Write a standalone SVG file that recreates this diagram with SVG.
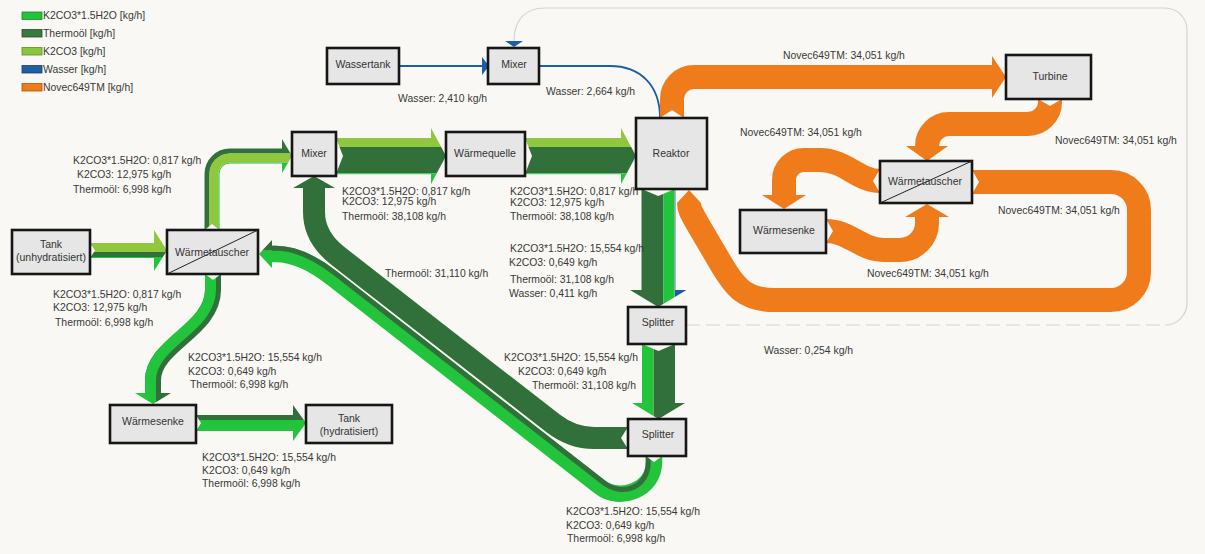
<svg xmlns="http://www.w3.org/2000/svg" width="1205" height="554" viewBox="0 0 1205 554">
<style>
.bg{fill:#f9f8f4}
.box{fill:#e6e6e6;stroke:#161616;stroke-width:2.6}
.diag{stroke:#222;stroke-width:1}
.t{font-family:"Liberation Sans",Arial,sans-serif;font-size:10.4px;fill:#383838}
.nt{font-family:"Liberation Sans",Arial,sans-serif;font-size:10.5px;fill:#333;text-anchor:middle;dominant-baseline:central}
.fBR{fill:#22c43c}.fDK{fill:#31703a}.fYG{fill:#8fc73e}.fBL{fill:#1b5ea6}.fOR{fill:#ef7b1a}
.sBR{fill:none;stroke:#22c43c}.sDK{fill:none;stroke:#31703a}.sYG{fill:none;stroke:#8fc73e}
.sOR{fill:none;stroke:#ef7b1a;stroke-width:24}
.wl{fill:none;stroke:#1b5ea6;stroke-width:1.8}
.notch{fill:#f9f8f4}
</style>
<defs>
<clipPath id="hdA"><polygon points="154,230 167,250.5 154,271"/></clipPath>
<clipPath id="hdB"><polygon points="282,139 292,156 282,173"/></clipPath>
<clipPath id="hdC"><polygon points="431,128 446,156 431,184"/></clipPath>
<clipPath id="hdD"><polygon points="621,128 636,156 621,184"/></clipPath>
<clipPath id="hdE"><polygon points="630,290 658.25,307 686.5,290"/></clipPath>
<clipPath id="hdF"><polygon points="632,403 658.5,419 685,403"/></clipPath>
<clipPath id="hdH"><polygon points="272,240 259,254 272,268"/></clipPath>
<clipPath id="hdI"><polygon points="135,393 153,404 171,393"/></clipPath>
<clipPath id="hdJ"><polygon points="293,405 306,423 293,441"/></clipPath>
</defs>
<rect class="bg" x="0" y="0" width="1205" height="554"/>

<g id="legend">
<rect x="22" y="12" width="20" height="7.5" fill="#22c43c" stroke="#178a2a" stroke-width="0.8"/>
<text class="t" x="43" y="19.4">K2CO3*1.5H2O [kg/h]</text>
<rect x="22" y="29.5" width="20" height="7.5" fill="#3a7a3f" stroke="#24502a" stroke-width="0.8"/>
<text class="t" x="43" y="37">Thermoöl [kg/h]</text>
<rect x="22" y="47.5" width="20" height="7.5" fill="#8cc63e" stroke="#5f8a28" stroke-width="0.8"/>
<text class="t" x="43" y="55">K2CO3 [kg/h]</text>
<rect x="22" y="65.5" width="20" height="7.5" fill="#1f5fa5" stroke="#143f70" stroke-width="0.8"/>
<text class="t" x="43" y="73">Wasser [kg/h]</text>
<rect x="22" y="83.5" width="20" height="7.5" fill="#ef7b1a" stroke="#a85510" stroke-width="0.8"/>
<text class="t" x="43" y="91">Novec649TM [kg/h]</text>
</g>

<g id="connectors">
<!-- water recycle from splitter back to the top mixer -->
<path d="M686,325 H1165" fill="none" stroke="#cdd5d5" stroke-width="1.2" stroke-dasharray="14 6"/>
<path d="M1165,325 A22,22 0 0 0 1187,303 V30 A22,22 0 0 0 1165,8 H545 C525,8 514,20 514,41" fill="none" stroke="#cdd5d5" stroke-width="1.2"/>
<polygon class="fBL" points="505,41 523,41 514,47"/>

<!-- water supply -->
<path class="wl" d="M399,66 H482"/>
<polygon class="fBL" points="482,57 489,66 482,75"/>
<path class="wl" d="M539,66 H610 C640,66 660,85 660,118"/>

<!-- Novec649TM cycle -->
<path class="sOR" d="M672,118 V99 A22,22 0 0 1 694,77 H992"/>
<polygon class="fOR" points="992,56 1006,77 992,98"/>
<path class="sOR" d="M1050,99 V102 A22,22 0 0 1 1028,124 H949 A22,22 0 0 0 927,146"/>
<polygon class="fOR" points="906,146 927,161 948,146"/>
<path class="sOR" d="M880,181 C858,181 845,160 820,160 H804 A20,20 0 0 0 784,180 V195"/>
<polygon class="fOR" points="762,195 784,209 806,195"/>
<path class="sOR" d="M826,231 C850,231 860,250 885,250 H900 A27,27 0 0 0 927,223 V217"/>
<polygon class="fOR" points="905,217 927,204 949,217"/>
<path class="sOR" d="M972,182 H1111 A28,28 0 0 1 1139,210 V272 A28,28 0 0 1 1111,300 H775 C745,300 735,288 720,262 L700,228 C692,214 689,210 689,203"/>
<polygon class="fOR" points="677,203 689,190 701,203"/>
<polygon class="notch" points="660,118 672,110 684,118"/>
<polygon class="notch" points="1038,99 1050,106 1062,99"/>
<polygon class="notch" points="880,169 873,181 880,193"/>
<polygon class="notch" points="826,219 833,231 826,243"/>
<polygon class="notch" points="972,170 979,182 972,194"/>

<!-- Tank (unhydratisiert) to heat exchanger -->
<rect class="fYG" x="90" y="243" width="64" height="9"/>
<rect class="fDK" x="90" y="252" width="64" height="5"/>
<rect class="fBR" x="90" y="257" width="64" height="1"/>
<g clip-path="url(#hdA)">
<rect class="fYG" x="150" y="225" width="20" height="27"/>
<rect class="fDK" x="150" y="252" width="20" height="5"/>
<rect class="fBR" x="150" y="257" width="20" height="20"/>
</g>
<polygon class="notch" points="90,243 95,250.5 90,258"/>

<!-- heat exchanger to mixer -->
<path class="sDK" stroke-width="5" d="M207,230 V174 A23,23 0 0 1 230,151 H282"/>
<path class="sYG" stroke-width="9" d="M214,230 V174 A16,16 0 0 1 230,158 H282"/>
<path class="sBR" stroke-width="1" d="M219,230 V174 A11,11 0 0 1 230,163 H282"/>
<g clip-path="url(#hdB)">
<rect class="fDK" x="278" y="135" width="20" height="18.5"/>
<rect class="fYG" x="278" y="153.5" width="20" height="9"/>
<rect class="fBR" x="278" y="162.5" width="20" height="15"/>
</g>
<polygon class="notch" points="204.5,230 212,224 219.5,230"/>

<!-- mixer to heat source -->
<rect class="fYG" x="336" y="138" width="95" height="9"/>
<rect class="fDK" x="336" y="147" width="95" height="26.4"/>
<rect class="fBR" x="336" y="173.4" width="95" height="0.8"/>
<g clip-path="url(#hdC)">
<rect class="fYG" x="428" y="124" width="20" height="23"/>
<rect class="fDK" x="428" y="147" width="20" height="26.4"/>
<rect class="fBR" x="428" y="173.4" width="20" height="14"/>
</g>
<polygon class="notch" points="336,138 343,156 336,174"/>

<!-- heat source to reactor -->
<rect class="fYG" x="525" y="138" width="96" height="9"/>
<rect class="fDK" x="525" y="147" width="96" height="26.4"/>
<rect class="fBR" x="525" y="173.4" width="96" height="0.8"/>
<g clip-path="url(#hdD)">
<rect class="fYG" x="618" y="124" width="20" height="23"/>
<rect class="fDK" x="618" y="147" width="20" height="26.4"/>
<rect class="fBR" x="618" y="173.4" width="20" height="14"/>
</g>
<polygon class="notch" points="525,138 532,156 525,174"/>

<!-- reactor to first splitter -->
<rect class="fDK" x="641.5" y="189" width="21.8" height="101"/>
<rect class="fBR" x="663.3" y="189" width="10.9" height="101"/>
<rect class="fYG" x="674.2" y="189" width="0.5" height="101"/>
<rect class="fBL" x="674.7" y="189" width="0.7" height="101"/>
<g clip-path="url(#hdE)">
<rect class="fDK" x="626" y="286" width="37.3" height="24"/>
<rect class="fBR" x="663.3" y="286" width="10.9" height="24"/>
<rect class="fYG" x="674.2" y="286" width="0.5" height="24"/>
<rect class="fBL" x="674.7" y="286" width="15" height="24"/>
</g>
<polygon class="notch" points="641.5,189 658.25,196 675,189"/>

<!-- first splitter to second splitter -->
<rect class="fBR" x="642" y="344" width="11" height="59"/>
<rect class="fYG" x="653" y="344" width="0.5" height="59"/>
<rect class="fDK" x="653.5" y="344" width="21.5" height="59"/>
<g clip-path="url(#hdF)">
<rect class="fBR" x="628" y="400" width="25" height="22"/>
<rect class="fYG" x="653" y="400" width="0.5" height="22"/>
<rect class="fDK" x="653.5" y="400" width="35" height="22"/>
</g>
<polygon class="notch" points="642,344 658.5,351 675,344"/>

<!-- thermal oil return to mixer -->
<path class="sDK" stroke-width="22" d="M628,438 H594 Q571.9,438 553,423.3 L338,256 Q314,237.4 314,212 V188"/>
<polygon class="fDK" points="293,188 314,176 335,188"/>
<polygon class="notch" points="628,427 621,438 628,449"/>

<!-- second splitter back to heat exchanger -->
<path class="sBR" stroke-width="16.5" d="M654,456 V462 C654,490 619.7,502.4 600,487 L332,278 Q301.2,254 276,254 H272"/>
<path class="sDK" stroke-width="5" d="M648.25,456 V462 C648.25,487 623.2,497.9 603.5,482.5 L335.5,273.5 Q303.1,248.25 276,248.25 H272"/>
<g clip-path="url(#hdH)">
<rect class="fDK" x="256" y="236" width="20" height="14.75"/>
<rect class="fBR" x="256" y="250.75" width="20" height="22"/>
</g>
<polygon class="notch" points="645.75,456 654,462 662.25,456"/>

<!-- heat exchanger to heat sink -->
<path class="sDK" stroke-width="16" d="M213,274 V290 C213,330 153,345 153,380 V393"/>
<path class="sBR" stroke-width="11" d="M210.5,274 V290 C210.5,328 150.5,343 150.5,380 V393"/>
<g clip-path="url(#hdI)">
<rect class="fBR" x="130" y="390" width="26" height="18"/>
<rect class="fDK" x="156" y="390" width="20" height="18"/>
</g>
<polygon class="notch" points="205,274 213,280 221,274"/>

<!-- heat sink to Tank (hydratisiert) -->
<rect class="fDK" x="196" y="415" width="97" height="5"/>
<rect class="fBR" x="196" y="420" width="97" height="11"/>
<g clip-path="url(#hdJ)">
<rect class="fDK" x="290" y="400" width="20" height="20"/>
<rect class="fBR" x="290" y="420" width="20" height="25"/>
</g>
<polygon class="notch" points="196,415 201,423 196,431"/>
</g>

<g id="flow-labels">
<text class="t" x="398" y="101.7">Wasser: 2,410 kg/h</text>
<text class="t" x="546" y="94.7">Wasser: 2,664 kg/h</text>
<text class="t" x="783" y="58.7">Novec649TM: 34,051 kg/h</text>
<text class="t" x="740" y="135.7">Novec649TM: 34,051 kg/h</text>
<text class="t" x="1055" y="143.7">Novec649TM: 34,051 kg/h</text>
<text class="t" x="998" y="213.7">Novec649TM: 34,051 kg/h</text>
<text class="t" x="867" y="276.7">Novec649TM: 34,051 kg/h</text>
<text class="t" x="73" y="163.7">K2CO3*1.5H2O: 0,817 kg/h</text>
<text class="t" x="77" y="177.7">K2CO3: 12,975 kg/h</text>
<text class="t" x="73" y="192.7">Thermoöl: 6,998 kg/h</text>
<text class="t" x="53" y="297.7">K2CO3*1.5H2O: 0,817 kg/h</text>
<text class="t" x="53" y="310.7">K2CO3: 12,975 kg/h</text>
<text class="t" x="55" y="325.7">Thermoöl: 6,998 kg/h</text>
<text class="t" x="342" y="194.7">K2CO3*1.5H2O: 0,817 kg/h</text>
<text class="t" x="342" y="204.7">K2CO3: 12,975 kg/h</text>
<text class="t" x="342" y="219.7">Thermoöl: 38,108 kg/h</text>
<text class="t" x="510" y="194.7">K2CO3*1.5H2O: 0,817 kg/h</text>
<text class="t" x="510" y="205.7">K2CO3: 12,975 kg/h</text>
<text class="t" x="510" y="219.7">Thermoöl: 38,108 kg/h</text>
<text class="t" x="510" y="251.7">K2CO3*1.5H2O: 15,554 kg/h</text>
<text class="t" x="509" y="265.7">K2CO3: 0,649 kg/h</text>
<text class="t" x="510" y="282.7">Thermoöl: 31,108 kg/h</text>
<text class="t" x="509" y="296.7">Wasser: 0,411 kg/h</text>
<text class="t" x="385" y="276.7">Thermoöl: 31,110 kg/h</text>
<text class="t" x="504" y="360.7">K2CO3*1.5H2O: 15,554 kg/h</text>
<text class="t" x="518" y="374.7">K2CO3: 0,649 kg/h</text>
<text class="t" x="532" y="388.7">Thermoöl: 31,108 kg/h</text>
<text class="t" x="764" y="353.7">Wasser: 0,254 kg/h</text>
<text class="t" x="188" y="360.7">K2CO3*1.5H2O: 15,554 kg/h</text>
<text class="t" x="188" y="374.7">K2CO3: 0,649 kg/h</text>
<text class="t" x="190" y="387.7">Thermoöl: 6,998 kg/h</text>
<text class="t" x="202" y="460.7">K2CO3*1.5H2O: 15,554 kg/h</text>
<text class="t" x="202" y="473.7">K2CO3: 0,649 kg/h</text>
<text class="t" x="202" y="486.7">Thermoöl: 6,998 kg/h</text>
<text class="t" x="566" y="514.7">K2CO3*1.5H2O: 15,554 kg/h</text>
<text class="t" x="566" y="528.7">K2CO3: 0,649 kg/h</text>
<text class="t" x="567" y="541.7">Thermoöl: 6,998 kg/h</text>
</g>

<g id="node-wassertank"><rect class="box" x="327" y="48" width="72" height="36"/><text class="nt" x="363" y="64">Wassertank</text></g>
<g id="node-mixer-water"><rect class="box" x="488" y="48" width="51" height="36"/><text class="nt" x="514" y="64">Mixer</text></g>
<g id="node-reaktor"><rect class="box" x="636" y="118" width="71" height="71"/><text class="nt" x="671" y="153">Reaktor</text></g>
<g id="node-turbine"><rect class="box" x="1006" y="55" width="85" height="44"/><text class="nt" x="1050" y="76">Turbine</text></g>
<g id="node-waermetauscher-novec"><rect class="box" x="880" y="161" width="92" height="42"/><line class="diag" x1="880" y1="203" x2="972" y2="161"/><text class="nt" x="925" y="181">Wärmetauscher</text></g>
<g id="node-waermesenke-novec"><rect class="box" x="740" y="210" width="86" height="43"/><text class="nt" x="784" y="230">Wärmesenke</text></g>
<g id="node-mixer"><rect class="box" x="292" y="132" width="44" height="44"/><text class="nt" x="314" y="153">Mixer</text></g>
<g id="node-waermequelle"><rect class="box" x="446" y="132" width="79" height="44"/><text class="nt" x="485" y="153">Wärmequelle</text></g>
<g id="node-tank-unhydratisiert"><rect class="box" x="12" y="230" width="78" height="44"/><text class="nt" x="51" y="244">Tank</text><text class="nt" x="51" y="257">(unhydratisiert)</text></g>
<g id="node-waermetauscher"><rect class="box" x="167" y="230" width="91" height="44"/><line class="diag" x1="167" y1="274" x2="258" y2="230"/><text class="nt" x="212" y="252">Wärmetauscher</text></g>
<g id="node-splitter-1"><rect class="box" x="628" y="307" width="58" height="37"/><text class="nt" x="658" y="322">Splitter</text></g>
<g id="node-splitter-2"><rect class="box" x="628" y="419" width="58" height="37"/><text class="nt" x="658" y="434">Splitter</text></g>
<g id="node-waermesenke"><rect class="box" x="110" y="405" width="86" height="38"/><text class="nt" x="153" y="421">Wärmesenke</text></g>
<g id="node-tank-hydratisiert"><rect class="box" x="306" y="405" width="86" height="38"/><text class="nt" x="349" y="418">Tank</text><text class="nt" x="349" y="431">(hydratisiert)</text></g>
</svg>
